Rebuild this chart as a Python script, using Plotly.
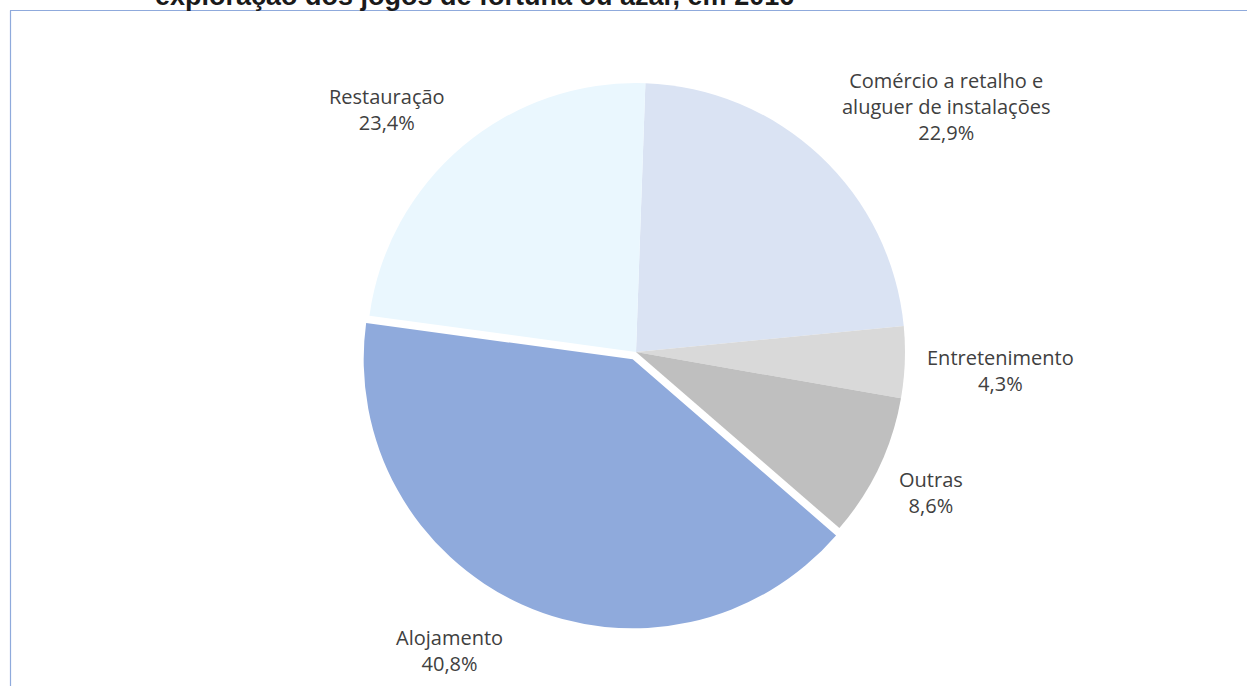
import plotly.graph_objects as go

categories = ["Comércio a retalho e<br>aluguer de instalações", "Entretenimento", "Outras", "Alojamento", "Restauração"]
values = [22.9, 4.3, 8.6, 40.8, 23.4]
colors = ["#DAE3F3", "#D9D9D9", "#BFBFBF", "#8FAADC", "#EAF7FE"]
pulls = [0, 0, 0, 0.03, 0]
title_text = "exploração dos jogos de fortuna ou azar, em 2016"

W, H = 1247, 686
cx, cy, r = 636, 352, 269
maxpull = max(pulls)
half = r * (1 + maxpull)

fig = go.Figure(go.Pie(
    labels=categories, values=values, sort=False, direction="clockwise",
    rotation=2, pull=pulls, textinfo="none", hoverinfo="label+percent",
    marker=dict(colors=colors, line=dict(width=0)),
    domain=dict(x=[(cx - half) / W, (cx + half) / W],
                y=[(H - cy - half) / H, (H - cy + half) / H]),
    showlegend=False,
))

# label positions (pixel centers)
label_pos = [(946, 107), (1000, 370), (931, 492), (449, 650), (387, 110)]
for cat, v, (px, py) in zip(categories, values, label_pos):
    txt = f"{cat}<br>{v:.1f}%".replace(".", ",")
    fig.add_annotation(x=px / W, y=1 - py / H, xref="paper", yref="paper",
                       text=txt, showarrow=False, xanchor="center", yanchor="middle",
                       font=dict(family="Open Sans", size=20, color="#404040"))

fig.add_annotation(x=474 / W, y=1 - 13.5 / H, xref="paper", yref="paper", text=f"<b>{title_text}</b>",
                   showarrow=False, xanchor="center", yanchor="bottom",
                   font=dict(family="Liberation Sans", size=27, color="#1a1a1a"))

# frame lines
fig.add_shape(type="line", xref="paper", yref="paper", x0=10 / W, x1=1, y0=1 - 10.5 / H, y1=1 - 10.5 / H,
              line=dict(color="#8FAADC", width=1.2))
fig.add_shape(type="line", xref="paper", yref="paper", x0=10.5 / W, x1=10.5 / W, y0=0, y1=1 - 10.5 / H,
              line=dict(color="#8FAADC", width=1.2))

fig.update_layout(width=W, height=H, margin=dict(l=0, r=0, t=0, b=0),
                  paper_bgcolor="white", plot_bgcolor="white")
fig.write_html("out.html", config={"displayModeBar": False},
               post_script="document.body.style.margin='0';")
